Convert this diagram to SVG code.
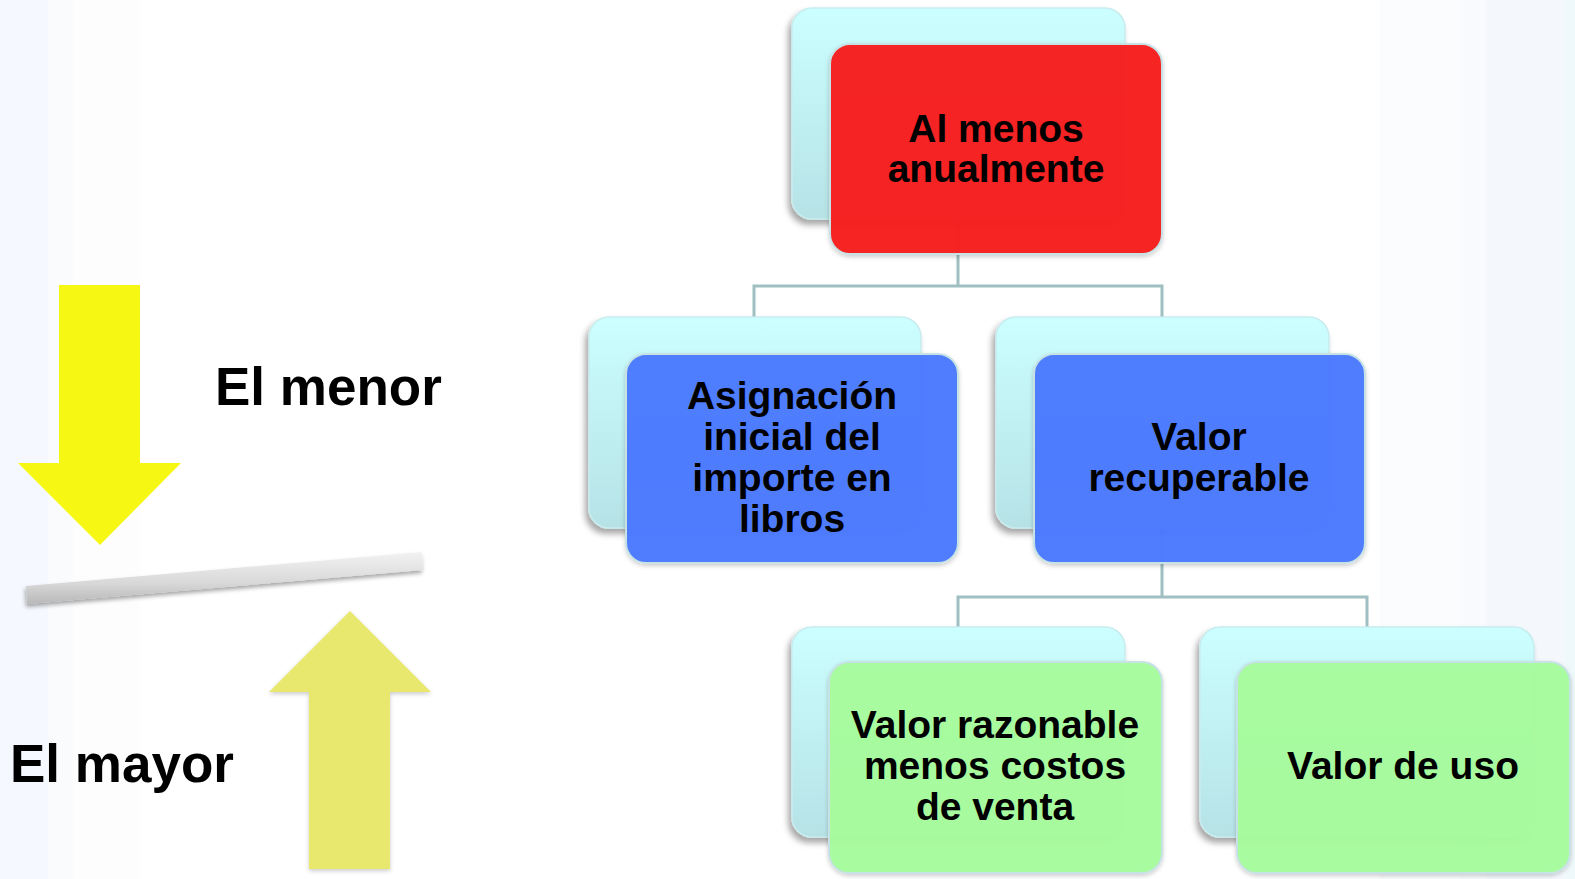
<svg xmlns="http://www.w3.org/2000/svg" width="1575" height="879" viewBox="0 0 1575 879">
<defs>
<linearGradient id="cyan" x1="0" y1="0" x2="0" y2="1">
<stop offset="0" stop-color="#ccffff"/>
<stop offset="1" stop-color="#b6e2e6"/>
</linearGradient>
<linearGradient id="plank" x1="0" y1="0" x2="0" y2="1">
<stop offset="0" stop-color="#f2f2f2"/>
<stop offset="0.6" stop-color="#d8d8d8"/>
<stop offset="1" stop-color="#b8b8b8"/>
</linearGradient>
<filter id="sh" x="-10%" y="-10%" width="120%" height="130%">
<feDropShadow dx="-3" dy="5" stdDeviation="3" flood-color="#000" flood-opacity="0.35"/>
</filter>
<filter id="sh2" x="-10%" y="-10%" width="120%" height="130%">
<feDropShadow dx="0" dy="2" stdDeviation="2" flood-color="#000" flood-opacity="0.2"/>
</filter>
<filter id="sh3" x="-10%" y="-30%" width="120%" height="180%">
<feDropShadow dx="-1" dy="3" stdDeviation="2" flood-color="#000" flood-opacity="0.35"/>
</filter>
</defs>
<style>
.back{fill:url(#cyan);stroke:#c8ecee;stroke-width:1.5;filter:url(#sh)}
.front{stroke:#c6e2e4;stroke-width:2;fill-opacity:0.96;filter:url(#sh2)}
.red{fill:#f81c1c}
.blue{fill:#4a7aff}
.green{fill:#a8fc9c}
.lbl{font-family:"Liberation Sans",Arial,sans-serif;font-weight:bold;font-size:39px;fill:#000;text-anchor:middle}
.big{font-family:"Liberation Sans",Arial,sans-serif;font-weight:bold;font-size:53px;fill:#000}
.conn{fill:none;stroke:#9fbfc2;stroke-width:3}
</style>
<rect x="0" y="0" width="1575" height="879" fill="#ffffff"/>
<rect x="0" y="0" width="48" height="879" fill="#f5f8fe"/>
<rect x="48" y="0" width="25" height="879" fill="#f9fbfd"/>
<rect x="73" y="0" width="67" height="879" fill="#fdfdfe"/>
<rect x="1380" y="0" width="80" height="879" fill="#fbfcfe"/>
<rect x="1460" y="0" width="26" height="879" fill="#f9fafd"/>
<rect x="1486" y="0" width="89" height="879" fill="#f4f8fc"/>
<rect x="1565" y="0" width="10" height="879" fill="#eff8fb"/>

<g id="connectors">
<path class="conn" d="M958 219 V286 M754 317 V286 H1162 V317"/>
<path class="conn" d="M1162 528 V597 M958 627 V597 H1367 V627"/>
</g>

<g id="arrow-down">
<polygon points="59,285 140,285 140,463 181,463 100,545 18,463 59,463" fill="#f7f714"/>
</g>
<g id="plank">
<polygon points="26,586 422,552 423,570 27,604" fill="url(#plank)" filter="url(#sh3)"/>
</g>
<g id="arrow-up">
<polygon points="350,611 431,692 390,692 390,869 309,869 309,692 269,692" fill="#e8e86e" filter="url(#sh2)"/>
</g>
<g id="label-menor"><text class="big" x="215" y="405">El menor</text></g>
<g id="label-mayor"><text class="big" x="10" y="782">El mayor</text></g>

<g id="node-top">
<rect class="back" x="792" y="8" width="333" height="211" rx="20"/>
<rect class="front red" x="830" y="44" width="332" height="210" rx="20"/>
<text class="lbl" x="996" y="142">Al menos</text>
<text class="lbl" x="996" y="182">anualmente</text>
</g>

<g id="node-asignacion">
<rect class="back" x="589" y="317" width="332" height="211" rx="20"/>
<rect class="front blue" x="626" y="354" width="332" height="209" rx="20"/>
<text class="lbl" x="792" y="409">Asignación</text>
<text class="lbl" x="792" y="450">inicial del</text>
<text class="lbl" x="792" y="491">importe en</text>
<text class="lbl" x="792" y="532">libros</text>
</g>

<g id="node-recuperable">
<rect class="back" x="996" y="317" width="333" height="211" rx="20"/>
<rect class="front blue" x="1034" y="354" width="331" height="209" rx="20"/>
<text class="lbl" x="1199" y="450">Valor</text>
<text class="lbl" x="1199" y="491">recuperable</text>
</g>

<g id="node-razonable">
<rect class="back" x="792" y="627" width="333" height="210" rx="20"/>
<rect class="front green" x="829" y="662" width="333" height="211" rx="20"/>
<text class="lbl" x="995" y="738">Valor razonable</text>
<text class="lbl" x="995" y="779">menos costos</text>
<text class="lbl" x="995" y="820">de venta</text>
</g>

<g id="node-uso">
<rect class="back" x="1200" y="627" width="334" height="210" rx="20"/>
<rect class="front green" x="1237" y="662" width="333" height="211" rx="20"/>
<text class="lbl" x="1403" y="779">Valor de uso</text>
</g>
</svg>
